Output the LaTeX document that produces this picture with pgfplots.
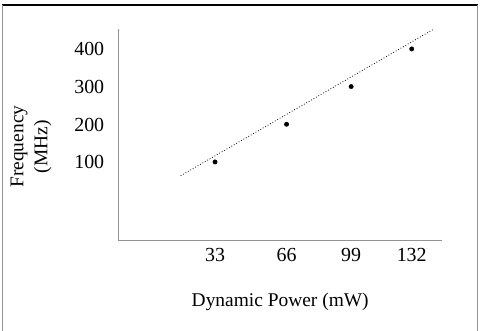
\documentclass[border=0pt]{standalone}
\usepackage{pgfplots}
\pgfplotsset{compat=1.18}
\usepackage{fontspec}
\setmainfont{Liberation Serif}
\begin{document}
\begin{tikzpicture}[x=1bp,y=1bp]
\path[use as bounding box] (0,0) rectangle (489,330);
\draw[black,line width=1.2bp] (2,325) -- (478,325);
\draw[gray!85,line width=1.5bp] (2.5,325) -- (2.5,-2);
\draw[gray!85,line width=1.5bp] (477.7,325) -- (477.7,-2);
\begin{axis}[
  at={(118.7bp,89.4bp)},
  scale only axis, width=323bp, height=211.6bp,
  xmin=-15.5, xmax=147.1, ymin=-107.9, ymax=453.9,
  anchor=south west,
  axis lines=left,
  axis line style={gray!85,line width=1.5bp,-},
  xtick={33,69,101.5,132}, xticklabels={33,66,99,132},
  ytick={100,200,300,400},
  major tick length=0pt,
  tick label style={font=\fontsize{20}{22}\selectfont},
  /pgf/number format/assume math mode=true,
  xticklabel style={yshift=-4bp},
  yticklabel style={xshift=-11bp},
  xlabel={Dynamic Power (mW)},
  xlabel style={font=\fontsize{19.5}{22}\selectfont, at={(axis description cs:0.5,0)}, anchor=center, yshift=-61bp},
  ylabel={Frequency\\(MHz)},
  ylabel style={font=\fontsize{19.5}{24}\selectfont, align=center, at={(axis description cs:-0.2715,0.444)}, anchor=center},
  clip=false,
]
\addplot[only marks, mark=*, mark size=2.2bp, black] coordinates {(33,101) (69,201) (101.5,301) (132,401)};
\addplot[black, dotted, line width=0.8bp] coordinates {(15.7,64.4) (142.9,453)};
\end{axis}
\end{tikzpicture}
\end{document}
